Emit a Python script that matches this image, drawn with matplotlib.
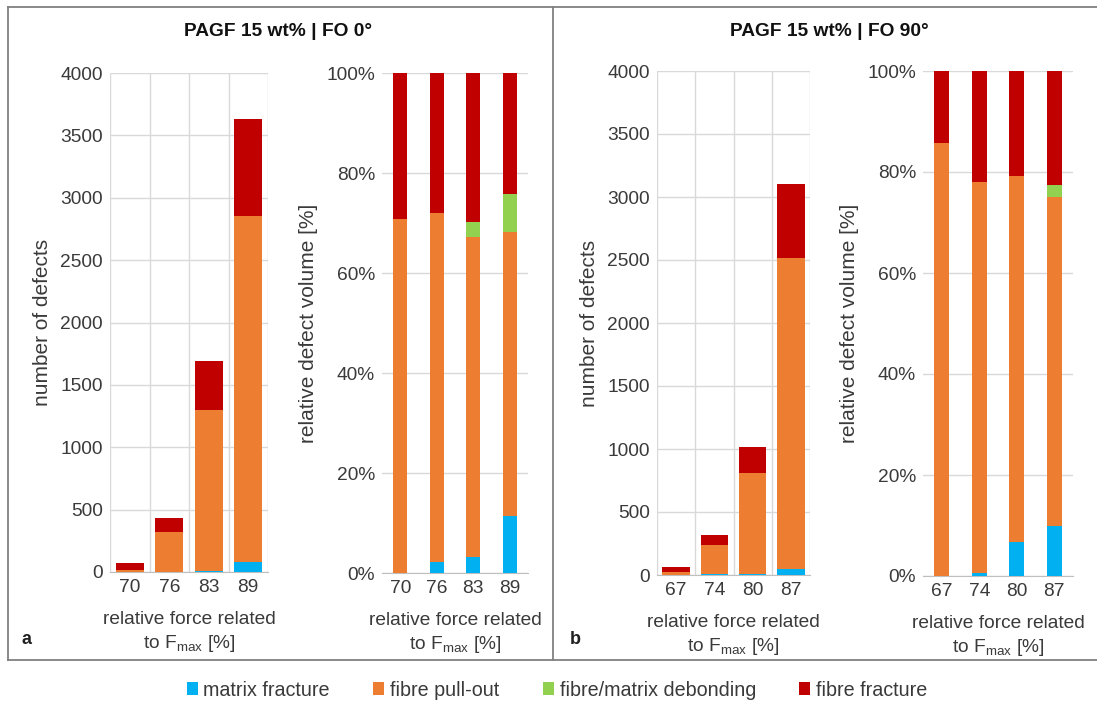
import matplotlib
matplotlib.use("Agg")
import matplotlib.pyplot as plt
from matplotlib.patches import Patch
from matplotlib.lines import Line2D
from matplotlib.ticker import FuncFormatter
import numpy as np

plt.rcParams['font.family'] = ['Liberation Sans', 'DejaVu Sans']
plt.rcParams['mathtext.default'] = 'regular'

# ---- data ----
series = ["matrix fracture", "fibre pull-out", "fibre/matrix debonding", "fibre fracture"]
colors = ["#00B0F0", "#ED7D31", "#92D050", "#C00000"]

# Panel a: PAGF 15 wt% | FO 0°
force_a = ["70", "76", "83", "89"]
count_a_matrix = [0, 0, 8, 80]
count_a_pullout = [15, 320, 1290, 2770]
count_a_debond = [0, 0, 0, 0]
count_a_fracture = [55, 113, 392, 780]

rel_a_matrix = [0.0, 2.2, 3.2, 11.4]
rel_a_pullout = [70.8, 69.8, 64.0, 56.8]
rel_a_debond = [0.0, 0.0, 3.0, 7.6]
rel_a_fracture = [29.2, 28.0, 29.8, 24.2]

# Panel b: PAGF 15 wt% | FO 90°
force_b = ["67", "74", "80", "87"]
count_b_matrix = [0, 5, 5, 45]
count_b_pullout = [20, 233, 805, 2470]
count_b_debond = [0, 0, 0, 0]
count_b_fracture = [43, 80, 206, 588]

rel_b_matrix = [0.0, 0.5, 6.7, 9.9]
rel_b_pullout = [85.7, 77.5, 72.5, 65.1]
rel_b_debond = [0.0, 0.0, 0.0, 2.4]
rel_b_fracture = [14.3, 22.0, 20.8, 22.6]

titles = ["PAGF 15 wt% | FO 0°", "PAGF 15 wt% | FO 90°"]
panel_tags = ["a", "b"]

W, H = 1097, 706
fig = plt.figure(figsize=(W / 100, H / 100), dpi=100)

TXT = "#3a3a3a"
GRID = "#D9D9D9"
FS = 13.8
FS_YLAB = 15


def rect(x0, x1, ytop, ybot):
    return [x0 / W, 1 - ybot / H, (x1 - x0) / W, (ybot - ytop) / H]


def stacked(ax, cats, layers, width):
    x = np.arange(len(cats))
    bottom = np.zeros(len(cats))
    for vals, c in zip(layers, colors):
        v = np.asarray(vals, dtype=float)
        ax.bar(x, v, width, bottom=bottom, color=c, edgecolor="none", zorder=3)
        bottom += v
    ax.set_xlim(-0.5, len(cats) - 0.5)
    ax.set_xticks(x)
    ax.set_xticklabels(cats)


def style(ax, vgrid):
    for s in ["top", "right", "left"]:
        ax.spines[s].set_visible(False)
    ax.spines["bottom"].set_color("#BFBFBF")
    ax.tick_params(axis="both", length=0, labelsize=FS, colors=TXT, pad=5)
    ax.yaxis.grid(True, color=GRID, lw=1, zorder=0)
    if vgrid:
        ax.set_xticks(np.arange(-0.5, 4.0, 1.0), minor=True)
        ax.xaxis.grid(True, which="minor", color=GRID, lw=1, zorder=0)
        ax.tick_params(axis="x", which="minor", length=0)
    ax.set_xlabel("relative force related\nto F$_{max}$ [%]", fontsize=FS,
                  color=TXT, linespacing=1.3, labelpad=11)


layout = [
    dict(count=(110, 268, 73, 572), rel=(382, 528, 73, 573), cx=278, tag=(22, 640)),
    dict(count=(657, 810, 71, 575), rel=(923, 1073, 71, 576), cx=829, tag=(570, 640)),
]

data = [
    (force_a, [count_a_matrix, count_a_pullout, count_a_debond, count_a_fracture],
     [rel_a_matrix, rel_a_pullout, rel_a_debond, rel_a_fracture]),
    (force_b, [count_b_matrix, count_b_pullout, count_b_debond, count_b_fracture],
     [rel_b_matrix, rel_b_pullout, rel_b_debond, rel_b_fracture]),
]

for i, (lay, (cats, counts, rels)) in enumerate(zip(layout, data)):
    ax1 = fig.add_axes(rect(*lay["count"]))
    stacked(ax1, cats, counts, 0.72)
    ax1.set_ylim(0, 4000)
    ax1.set_yticks(np.arange(0, 4001, 500))
    style(ax1, True)
    ax1.set_ylabel("number of defects", fontsize=FS_YLAB, color=TXT, labelpad=6)

    ax2 = fig.add_axes(rect(*lay["rel"]))
    stacked(ax2, cats, rels, 0.39)
    ax2.set_ylim(0, 100)
    ax2.set_yticks(np.arange(0, 101, 20))
    ax2.yaxis.set_major_formatter(FuncFormatter(lambda v, p: f"{v:.0f}%"))
    style(ax2, False)
    ax2.set_ylabel("relative defect volume [%]", fontsize=FS_YLAB, color=TXT, labelpad=6)

    fig.text(lay["cx"] / W, 1 - 31 / H, titles[i], ha="center", va="center",
             fontsize=13.8, fontweight="bold", color="#111111")
    fig.text(lay["tag"][0] / W, 1 - lay["tag"][1] / H, panel_tags[i], ha="left",
             va="center", fontsize=13, fontweight="bold", color="#222222")

# outer frame with divider between the two panels
frame_col = "#808080"
fig.add_artist(Line2D([8 / W, 8 / W], [1 - 7 / H, 1 - 660 / H], color=frame_col, lw=1.3))
fig.add_artist(Line2D([8 / W, 1.0], [1 - 7 / H, 1 - 7 / H], color=frame_col, lw=1.3))
fig.add_artist(Line2D([8 / W, 1.0], [1 - 660 / H, 1 - 660 / H], color=frame_col, lw=1.3))
fig.add_artist(Line2D([553 / W, 553 / W], [1 - 7 / H, 1 - 660 / H], color=frame_col, lw=1.3))

handles = [Patch(facecolor=c, edgecolor="none", label=s) for s, c in zip(series, colors)]
fig.legend(handles=handles, loc="center", bbox_to_anchor=(557 / W, 1 - 690 / H),
           ncol=4, frameon=False, fontsize=14.2, handlelength=0.55, handleheight=0.6,
           handletextpad=0.3, columnspacing=2.2, labelcolor=TXT)

fig.savefig("out.png", dpi=100)
